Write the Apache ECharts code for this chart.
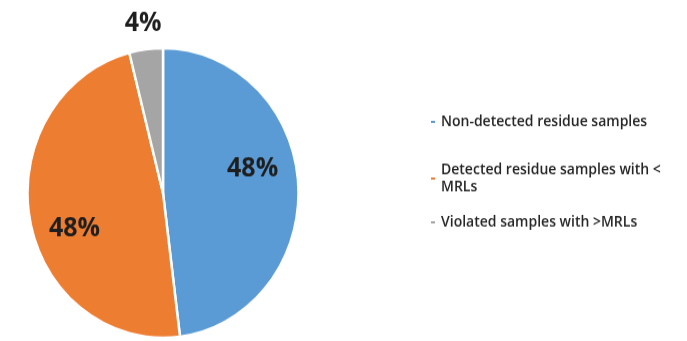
<!DOCTYPE html>
<html>
<head>
<meta charset="utf-8">
<script src="https://cdn.jsdelivr.net/npm/echarts@6/dist/echarts.min.js"></script>
<style>
  html, body { margin: 0; padding: 0; background: #fff; overflow: hidden; }
  #wrap { width: 687px; height: 341px; overflow: hidden; }
  /* the figure is drawn slightly taller than wide, so the canvas is stretched vertically */
  #chart { width: 687px; height: 319px; transform: scale(1, 1.069); transform-origin: 0 0; }
</style>
</head>
<body>
<div id="wrap"><div id="chart"></div></div>
<script>
// Sample categories and their shares (percent)
const categories = [
  'Non-detected residue samples',
  'Detected residue samples with < MRLs',
  'Violated samples with >MRLs'
];
const shares = [48, 48, 4];
const colors = ['#5B9BD5', '#ED7D31', '#A5A5A5'];

// label nudges from the default inside-slice anchor
const labelNudge = [[19, -18], [-19, 20], [-11, -88]];
// legend rows (left, top)
const legendSpots = [[424, 101], [424, 146], [424, 195]];

const chart = echarts.init(document.getElementById('chart'), null, { renderer: 'canvas' });

const data = categories.map((name, i) => ({
  name: name,
  value: shares[i],
  itemStyle: { color: colors[i] },
  label: { offset: labelNudge[i] }
}));

const legends = categories.map((name, i) => ({
  data: [name],
  orient: 'vertical',
  left: legendSpots[i][0],
  top: legendSpots[i][1],
  icon: 'rect',
  itemWidth: 6,
  itemHeight: 4,
  itemGap: 0,
  selectedMode: false,
  formatter: n => n.length > 32 ? n.replace(/ (\S+)$/, '\n$1') : n,
  textStyle: {
    fontFamily: 'Open Sans',
    fontWeight: 600,
    fontSize: 14,
    color: '#262626',
    lineHeight: 16,
    padding: [0, 0, 0, 0]
  }
}));

chart.setOption({
  animation: false,
  legend: legends,
  series: [{
    type: 'pie',
    center: [163, 180.5],
    radius: 135.5,
    startAngle: 90,
    clockwise: true,
    avoidLabelOverlap: false,
    itemStyle: { borderColor: '#ffffff', borderWidth: 2.5 },
    label: {
      show: true,
      position: 'inside',
      formatter: p => p.value + '%',
      fontFamily: 'Open Sans',
      fontWeight: 'bold',
      fontSize: 25,
      color: '#1e1e1e'
    },
    labelLine: { show: false },
    emphasis: { disabled: true },
    data: data
  }]
});
</script>
</body>
</html>
